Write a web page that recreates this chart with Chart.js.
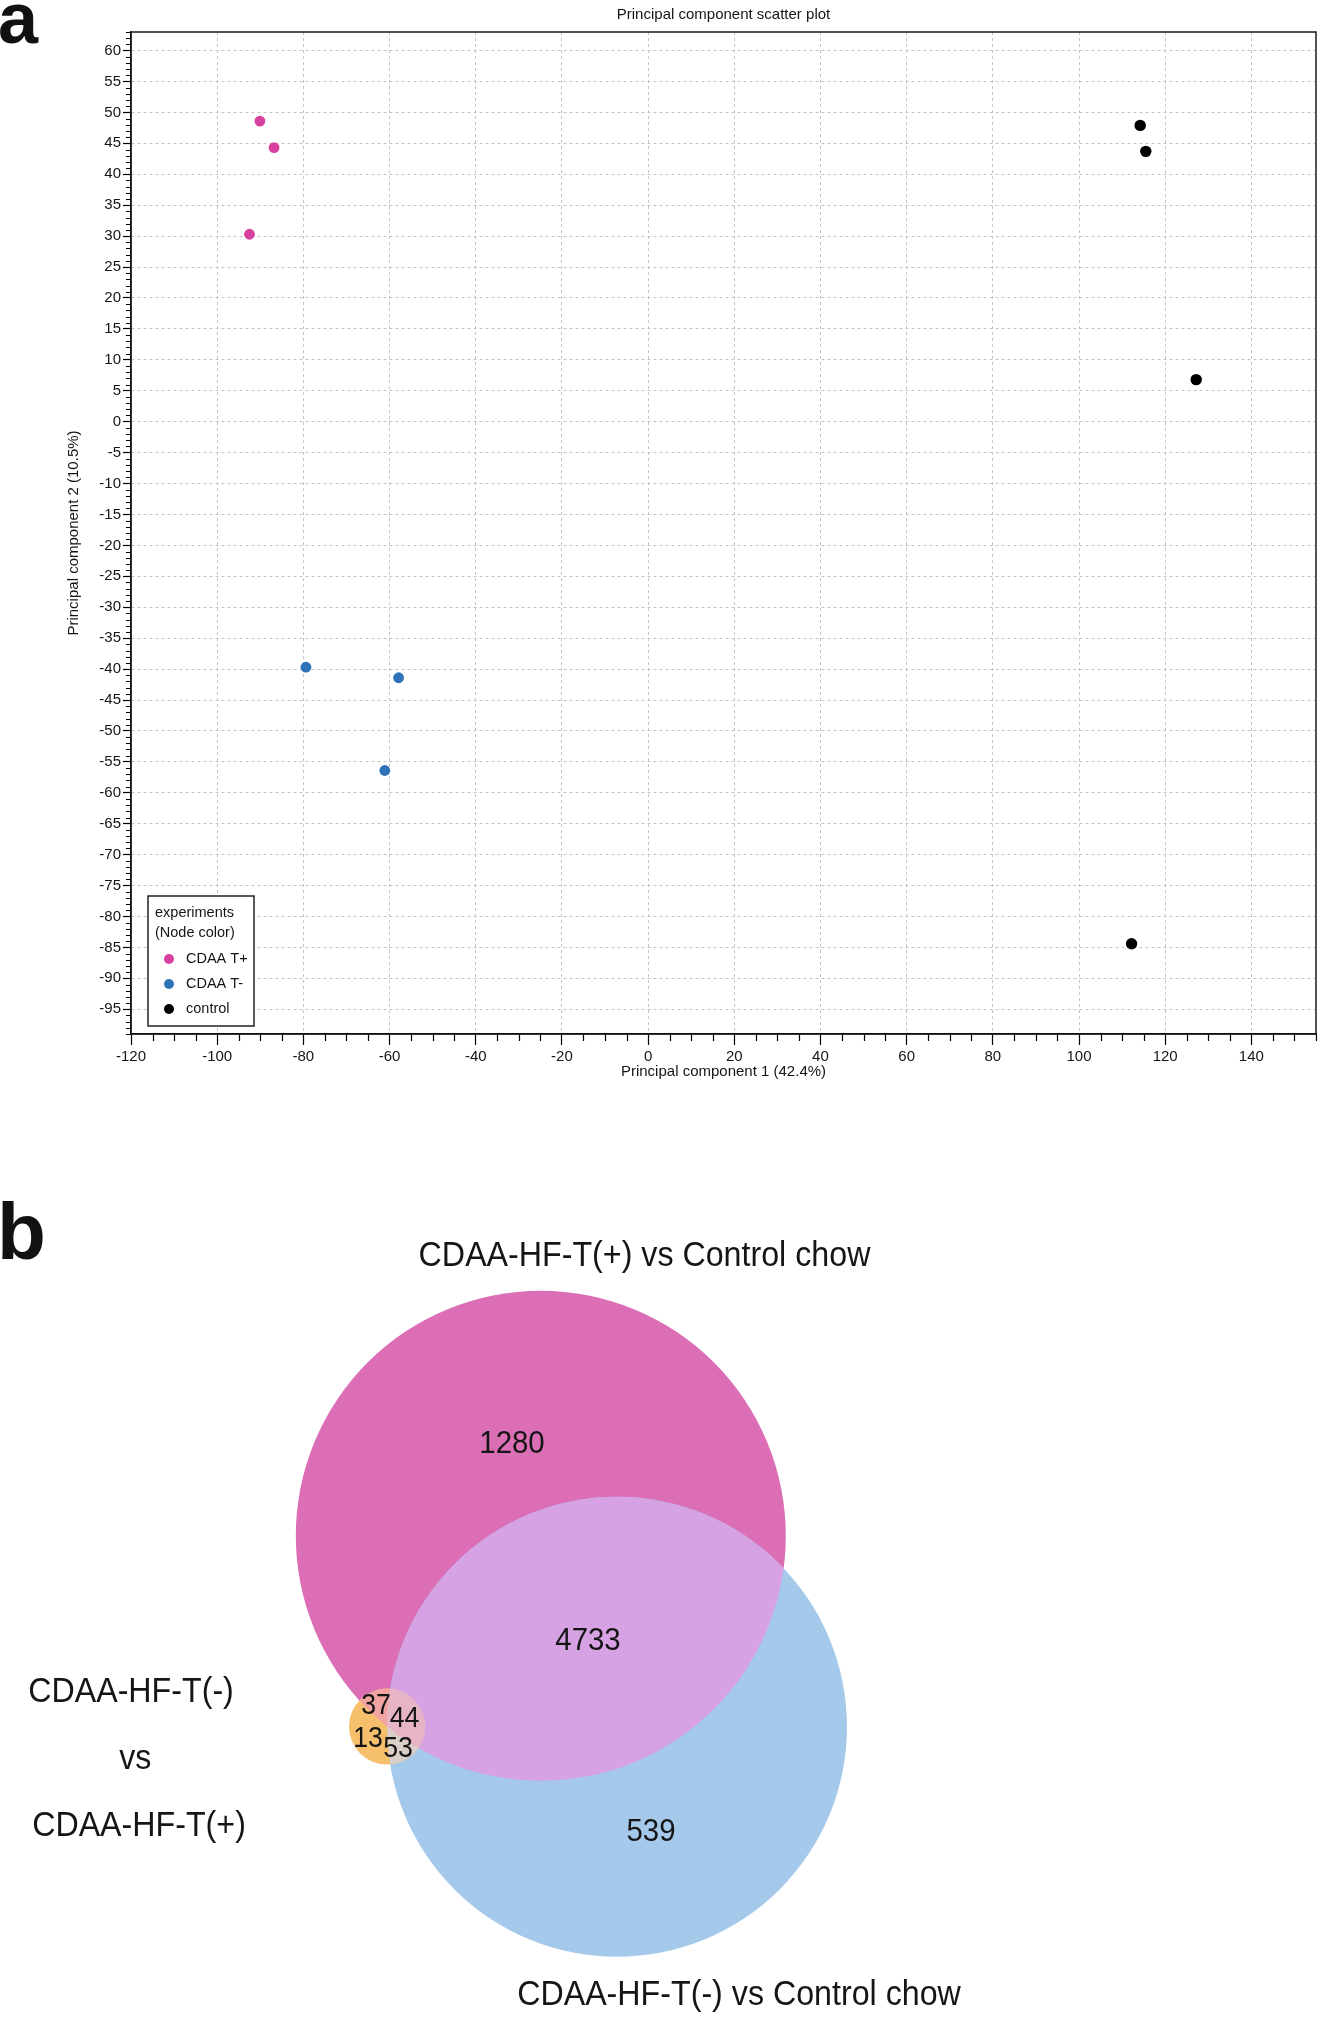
<!DOCTYPE html>
<html>
<head>
<meta charset="utf-8">
<script src="https://cdn.jsdelivr.net/npm/chart.js@4.4.1/dist/chart.umd.min.js"></script>
<style>
html,body{margin:0;padding:0;background:#fff;}
#wrap{position:relative;width:1319px;height:2023px;overflow:hidden;background:#fff;}
#pca{position:absolute;left:0;top:0;}
#venn{position:absolute;left:0;top:1100px;}
</style>
</head>
<body>
<div id="wrap">
<canvas id="pca" width="1319" height="1100"></canvas>
<canvas id="venn" width="1319" height="923"></canvas>
</div>
<script>
// ---------------- DATA: panel a (PCA scatter) ----------------
const groupNames = ['CDAA T+', 'CDAA T-', 'control'];
const pc1CdaaTplus  = [-90.1, -86.8, -92.5];
const pc2CdaaTplus  = [48.6, 44.3, 30.3];
const pc1CdaaTminus = [-79.4, -57.9, -61.1];
const pc2CdaaTminus = [-39.7, -41.4, -56.4];
const pc1Control    = [114.2, 115.5, 127.2, 112.2];
const pc2Control    = [47.9, 43.7, 6.8, -84.4];
const xAxisTitle = 'Principal component 1 (42.4%)';
const yAxisTitle = 'Principal component 2 (10.5%)';
const chartTitle = 'Principal component scatter plot';
const legendTitleLines = ['experiments', '(Node color)'];

// ---------------- DATA: panel b (Venn) ----------------
const vennSetNames = ['CDAA-HF-T(+) vs Control chow', 'CDAA-HF-T(-) vs Control chow', 'CDAA-HF-T(-) vs CDAA-HF-T(+)'];
const vennSideTitleLines = ['CDAA-HF-T(-)', 'vs', 'CDAA-HF-T(+)'];
const regionKeys   = ['A', 'AB', 'B', 'AC', 'ABC', 'C', 'BC'];
const regionCounts = [1280, 4733, 539, 37, 44, 13, 53];

// ---------------- STYLE / LAYOUT ----------------
const FONT = '"Liberation Sans", Arial, Helvetica, sans-serif';
const groupColors = ['#D8409F', '#2F72B8', '#000000'];
const regionColors = {A:'#DB6EB5', AB:'#D6A2E3', B:'#A5C9EA', AC:'#F2A4A2', ABC:'#E7B4C6', C:'#F6BF6C', BC:'#D9CEC8'};
const TXT = '#151515';
Chart.defaults.font.family = FONT;

// ---------- panel a plugins ----------
const frameAndMinor = {
  id: 'frameAndMinor',
  afterDraw(chart) {
    const {ctx, chartArea: a, scales: {x, y}} = chart;
    ctx.save();
    ctx.strokeStyle = '#000';
    ctx.lineWidth = 1.2;
    ctx.beginPath();
    for (let v = Math.ceil(x.min / 5) * 5; v <= x.max; v += 5) {
      if (v % 20 === 0) continue;
      const px = Math.round(x.getPixelForValue(v)) + 0.5;
      ctx.moveTo(px, a.bottom); ctx.lineTo(px, a.bottom + 7);
    }
    for (let v = Math.ceil(y.min); v <= y.max; v += 1) {
      if (v % 5 === 0) continue;
      const py = Math.round(y.getPixelForValue(v)) + 0.5;
      ctx.moveTo(a.left - 5, py); ctx.lineTo(a.left, py);
    }
    ctx.stroke();
    ctx.lineWidth = 1.5;
    ctx.strokeStyle = '#1a1a1a';
    ctx.strokeRect(a.left, a.top, a.right - a.left, a.bottom - a.top);
    // legend box
    const bx = a.left + 17, by = a.bottom - 138, bw = 106, bh = 130;
    ctx.fillStyle = '#fff';
    ctx.fillRect(bx, by, bw, bh);
    ctx.strokeStyle = '#222';
    ctx.lineWidth = 1.5;
    ctx.strokeRect(bx, by, bw, bh);
    ctx.fillStyle = TXT;
    ctx.font = '14.5px ' + FONT;
    ctx.textBaseline = 'middle';
    ctx.textAlign = 'left';
    legendTitleLines.forEach((t, i) => ctx.fillText(t, bx + 7, by + 17 + i * 20));
    chart.data.datasets.forEach((ds, i) => {
      const cy = by + 63 + i * 25;
      ctx.beginPath();
      ctx.fillStyle = ds.backgroundColor;
      ctx.arc(bx + 21, cy, 5, 0, Math.PI * 2);
      ctx.fill();
      ctx.fillStyle = TXT;
      ctx.fillText(ds.label, bx + 38, cy);
    });
    // panel letter
    ctx.font = 'bold 72px ' + FONT;
    ctx.textBaseline = 'alphabetic';
    ctx.fillStyle = '#111';
    ctx.fillText('a', -2, 43);
    ctx.restore();
  }
};

function xy(xs, ys) { return xs.map((v, i) => ({x: v, y: ys[i]})); }

new Chart(document.getElementById('pca'), {
  type: 'scatter',
  data: {
    datasets: [
      {label: groupNames[0], data: xy(pc1CdaaTplus, pc2CdaaTplus), backgroundColor: groupColors[0], borderWidth: 0, pointRadius: 5.4},
      {label: groupNames[1], data: xy(pc1CdaaTminus, pc2CdaaTminus), backgroundColor: groupColors[1], borderWidth: 0, pointRadius: 5.4},
      {label: groupNames[2], data: xy(pc1Control, pc2Control), backgroundColor: groupColors[2], borderWidth: 0, pointRadius: 5.7}
    ]
  },
  options: {
    responsive: false,
    animation: false,
    events: [],
    layout: {autoPadding: false, padding: {left: 0, right: 3, top: 0, bottom: 0}},
    plugins: {
      legend: {display: false},
      tooltip: {enabled: false},
      title: {display: true, text: chartTitle, fullSize: false, color: TXT,
              font: {family: FONT, size: 15, weight: 'normal'}, padding: {top: 6, bottom: 8}}
    },
    scales: {
      x: {
        type: 'linear', min: -120, max: 155,
        ticks: {stepSize: 20, includeBounds: false, autoSkip: false, maxRotation: 0, padding: 3,
                color: TXT, font: {family: FONT, size: 15}},
        grid: {color: c => (c.tick && c.tick.value === -120) ? 'rgba(0,0,0,0)' : '#c4c4c4',
               lineWidth: 1, tickLength: 11, tickColor: '#000', tickWidth: 1.2},
        border: {display: true, color: '#000', width: 1.5, dash: [3, 3]},
        title: {display: true, text: xAxisTitle, color: TXT, font: {family: FONT, size: 15}, padding: {top: 0, bottom: 19}},
        afterFit: s => { s.height = 66; s.paddingLeft = 0; s.paddingRight = 0; }
      },
      y: {
        type: 'linear', min: -99, max: 63,
        ticks: {stepSize: 5, includeBounds: false, autoSkip: false, padding: 2,
                color: TXT, font: {family: FONT, size: 15}},
        grid: {color: '#c4c4c4', lineWidth: 1, tickLength: 8, tickColor: '#000', tickWidth: 1.2},
        border: {display: true, color: '#000', width: 1.5, dash: [3, 3]},
        title: {display: true, text: yAxisTitle, color: TXT, font: {family: FONT, size: 15}, padding: {top: 65, bottom: 0}},
        afterFit: s => { s.width = 131; s.paddingTop = 0; s.paddingBottom = 0; }
      }
    }
  },
  plugins: [frameAndMinor]
});

// ---------- panel b: Venn ----------
function setSize(key) {
  return regionKeys.reduce((s, k, i) => s + (k.includes(key) ? regionCounts[i] : 0), 0);
}
const areaScale = 3.1385;                    // radius units per sqrt(count)
const radiusOf = key => areaScale * Math.sqrt(setSize(key));
// layout: centres of the two large circles (hidden-axis units)
const centreA = {x: 540.8, y: 435.8};
const centreB = {x: 617.0, y: 626.8};
// circle C sits on the left crossing point of A's and B's outlines
function leftCrossing(p, rp, q, rq) {
  const dx = q.x - p.x, dy = q.y - p.y, d = Math.hypot(dx, dy);
  const a = (rp * rp - rq * rq + d * d) / (2 * d);
  const h = Math.sqrt(rp * rp - a * a);
  const mx = p.x + a * dx / d, my = p.y + a * dy / d;
  return {x: mx - h * dy / d, y: my + h * dx / d};
}
const centreC = leftCrossing(centreA, radiusOf('A'), centreB, radiusOf('B'));

const textLayout = [
  {t: vennSetNames[0], x: 644.5, y: 166, s: 35},
  {t: vennSetNames[1], x: 739, y: 905, s: 35},
  {t: vennSideTitleLines[0], x: 131, y: 601.7, s: 35},
  {t: vennSideTitleLines[1], x: 135.3, y: 669.3, s: 35},
  {t: vennSideTitleLines[2], x: 139, y: 736, s: 35}
];
const countLayout = {A: {x: 512, y: 353, s: 32}, AB: {x: 588, y: 550, s: 32}, B: {x: 651, y: 741, s: 32},
                     AC: {x: 376, y: 614, s: 29}, ABC: {x: 404.5, y: 627.3, s: 29}, C: {x: 368, y: 647.3, s: 29}, BC: {x: 398, y: 656.7, s: 29}};

function drawCond(ctx, text, cx, base, size) {
  ctx.save();
  ctx.font = size + 'px ' + FONT;
  ctx.textAlign = 'center';
  ctx.textBaseline = 'alphabetic';
  ctx.fillStyle = TXT;
  ctx.translate(cx, base);
  ctx.scale(0.92, 1);
  ctx.fillText(text, 0, 0);
  ctx.restore();
}

const vennPlugin = {
  id: 'vennOverlay',
  afterDatasetsDraw(chart) {
    const {ctx} = chart;
    const circ = i => { const e = chart.getDatasetMeta(i).data[0]; return {x: e.x, y: e.y, r: e.options.radius}; };
    const A = circ(0), B = circ(1), C = circ(2);
    const path = c => { ctx.beginPath(); ctx.arc(c.x, c.y, c.r, 0, Math.PI * 2); };
    const paint = (clips, fillC, color) => {
      ctx.save();
      clips.forEach(c => { path(c); ctx.clip(); });
      path(fillC); ctx.fillStyle = color; ctx.fill();
      ctx.restore();
    };
    paint([A], B, regionColors.AB);
    paint([C], A, regionColors.AC);
    paint([C], B, regionColors.BC);
    paint([C, A], B, regionColors.ABC);
  },
  afterDraw(chart) {
    const {ctx, scales: {x, y}} = chart;
    textLayout.forEach(l => drawCond(ctx, l.t, x.getPixelForValue(l.x), y.getPixelForValue(l.y), l.s));
    regionKeys.forEach((k, i) => {
      const l = countLayout[k];
      drawCond(ctx, String(regionCounts[i]), x.getPixelForValue(l.x), y.getPixelForValue(l.y), l.s);
    });
    ctx.save();
    ctx.font = 'bold 80px ' + FONT;
    ctx.fillStyle = '#111';
    ctx.textBaseline = 'alphabetic';
    ctx.fillText('b', -3, 159);
    ctx.restore();
  }
};

const radiusPx = key => ctx => {
  const sx = ctx.chart.scales.x;
  return Math.abs(sx.getPixelForValue(radiusOf(key)) - sx.getPixelForValue(0));
};

new Chart(document.getElementById('venn'), {
  type: 'scatter',
  data: {
    datasets: [
      {label: vennSetNames[0], data: [centreA], backgroundColor: regionColors.A, borderWidth: 0, pointRadius: radiusPx('A'), order: 3},
      {label: vennSetNames[1], data: [centreB], backgroundColor: regionColors.B, borderWidth: 0, pointRadius: radiusPx('B'), order: 2},
      {label: vennSetNames[2], data: [centreC], backgroundColor: regionColors.C, borderWidth: 0, pointRadius: radiusPx('C'), order: 1}
    ]
  },
  options: {
    responsive: false,
    animation: false,
    events: [],
    layout: {autoPadding: false, padding: 0},
    plugins: {legend: {display: false}, tooltip: {enabled: false}, title: {display: false}},
    scales: {
      x: {type: 'linear', min: 0, max: 1319, display: false},
      y: {type: 'linear', min: 0, max: 923, reverse: true, display: false}
    }
  },
  plugins: [vennPlugin]
});
</script>
</body>
</html>
